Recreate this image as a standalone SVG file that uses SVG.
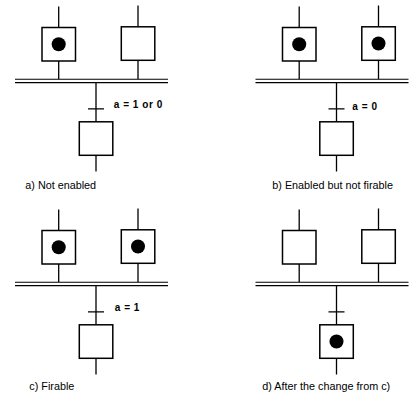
<svg xmlns="http://www.w3.org/2000/svg" width="409" height="396" viewBox="0 0 409 396">
<style>
.step{fill:#fff;stroke:#000;stroke-width:1.5}
.tok{fill:#000}
.ln{stroke:#000;stroke-width:1.3;fill:none}
.bar{stroke:#000;stroke-width:1.1;fill:none}
.lbl{font-family:"Liberation Sans",Arial,sans-serif;font-size:10px;font-weight:bold;letter-spacing:0.55px;fill:#000}
.cap{font-family:"Liberation Sans",Arial,sans-serif;font-size:10.8px;fill:#000}
</style>
<rect width="409" height="396" fill="#fff"/>
<defs>
<g id="wires">
<path class="ln" d="M58.7 6.5V27.5M58.7 61V79M138 5.5V26.8M138 60.3V79M96 82.5V121.8M88 108.8H104M96 155.3V171.5"/>
<path class="bar" d="M15 79.2H168M15 82.6H168"/>
</g>
</defs>
<g id="connectors">
<use href="#wires"/>
<use href="#wires" transform="translate(240.5,0)"/>
<use href="#wires" transform="translate(0,203)"/>
<use href="#wires" transform="translate(240.5,203)"/>
</g>
<!-- panel a -->
<g id="a-step1"><rect class="step" x="42" y="27.5" width="33.5" height="33.5"/><circle class="tok" cx="58.7" cy="44.2" r="7"/></g>
<g id="a-step2"><rect class="step" x="121.3" y="26.8" width="33.5" height="33.5"/></g>
<g id="a-step3"><rect class="step" x="79.3" y="121.8" width="33.5" height="33.5"/></g>
<text class="lbl" x="113.7" y="107.7">a = 1 or 0</text>
<text class="cap" x="25.3" y="189">a) Not enabled</text>
<!-- panel b -->
<g id="b-step1"><rect class="step" x="282.5" y="27.5" width="33.5" height="33.5"/><circle class="tok" cx="299.2" cy="44.2" r="7"/></g>
<g id="b-step2"><rect class="step" x="361.8" y="26.8" width="33.5" height="33.5"/><circle class="tok" cx="378.5" cy="43.5" r="7"/></g>
<g id="b-step3"><rect class="step" x="319.8" y="121.8" width="33.5" height="33.5"/></g>
<text class="lbl" x="352.3" y="110">a = 0</text>
<text class="cap" x="272.3" y="189">b) Enabled but not firable</text>
<!-- panel c -->
<g id="c-step1"><rect class="step" x="42" y="230.5" width="33.5" height="33.5"/><circle class="tok" cx="58.7" cy="247.2" r="7"/></g>
<g id="c-step2"><rect class="step" x="121.3" y="229.8" width="33.5" height="33.5"/><circle class="tok" cx="138" cy="246.5" r="7"/></g>
<g id="c-step3"><rect class="step" x="79.3" y="324.8" width="33.5" height="33.5"/></g>
<text class="lbl" x="114.7" y="311.3">a = 1</text>
<text class="cap" x="29.3" y="389.7">c) Firable</text>
<!-- panel d -->
<g id="d-step1"><rect class="step" x="282.5" y="230.5" width="33.5" height="33.5"/></g>
<g id="d-step2"><rect class="step" x="361.8" y="229.8" width="33.5" height="33.5"/></g>
<g id="d-step3"><rect class="step" x="319.8" y="324.8" width="33.5" height="33.5"/><circle class="tok" cx="336.5" cy="341.5" r="7"/></g>
<text class="cap" x="262.3" y="390.3">d) After the change from c)</text>
</svg>
